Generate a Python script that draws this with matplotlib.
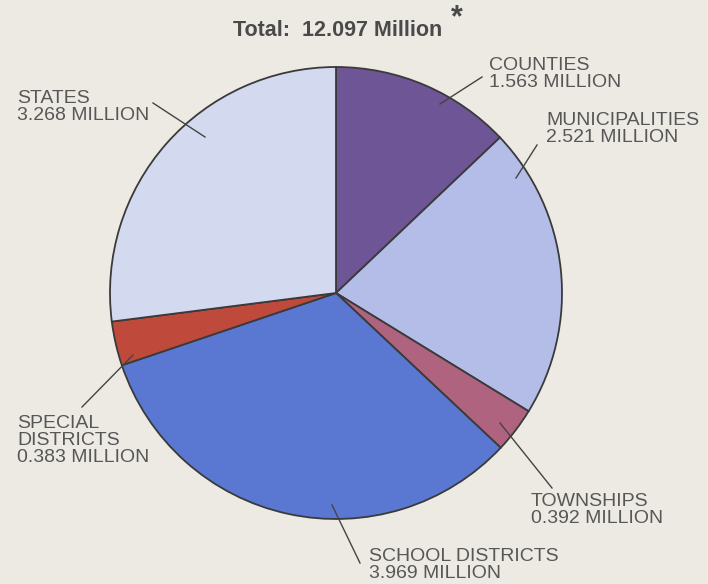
import matplotlib
matplotlib.use("Agg")
import matplotlib.pyplot as plt

# employment by type of government, millions (clockwise from the top)
categories = ["COUNTIES", "MUNICIPALITIES", "TOWNSHIPS", "SCHOOL DISTRICTS",
              "SPECIAL\nDISTRICTS", "STATES"]
values = [1.563, 2.521, 0.392, 3.969, 0.383, 3.268]
value_labels = ["1.563", "2.521", "0.392", "3.969", "0.383", "3.268"]
colors = ["#6e5596", "#b4bde8", "#b0637e", "#5a78d2", "#bf4a3c", "#d3daf0"]

W, H = 708, 584
fig = plt.figure(figsize=(W / 100, H / 100), dpi=100)
fig.patch.set_facecolor("#eceae3")
ax = fig.add_axes([0, 0, 1, 1])

cx, cy, r = 336, H - 293, 226
ax.pie(values, colors=colors, startangle=90, counterclock=False,
       center=(cx, cy), radius=r, frame=True,
       wedgeprops=dict(edgecolor="#3a3a3a", linewidth=1.3))
ax.set_xlim(0, W)
ax.set_ylim(0, H)
ax.axis("off")

txt = "#575757"
font = "Liberation Sans"

# label positions (pixel, from top-left) and leader lines
label_pos = [(489, 57), (546, 112), (531, 493), (369, 548), (17, 415), (17, 90)]
leaders = [((482, 77), (440, 104)), ((537, 145), (516, 178)),
           ((500, 423), (552, 488)), ((332, 505), (360, 563)),
           ((133, 355), (82, 407)), ((153, 103), (205, 137))]

for cat, val, (tx, ty), (p0, p1) in zip(categories, value_labels, label_pos, leaders):
    ax.text(tx, H - ty, f"{cat}\n{val} MILLION", ha="left", va="top",
            fontsize=14, color=txt, family=font, linespacing=1.0)
    ax.plot([p0[0], p1[0]], [H - p0[1], H - p1[1]], color="#444444", lw=1.0)

ax.text(338, H - 31, "Total:  12.097 Million", ha="center", va="center",
        fontsize=15.5, fontweight="bold", color="#4a4a4a", family=font)
ax.text(457, H - 18, "*", ha="center", va="center", fontsize=22,
        fontweight="bold", color="#4a4a4a", family=font)

fig.savefig("out.png", dpi=100, facecolor=fig.get_facecolor())
